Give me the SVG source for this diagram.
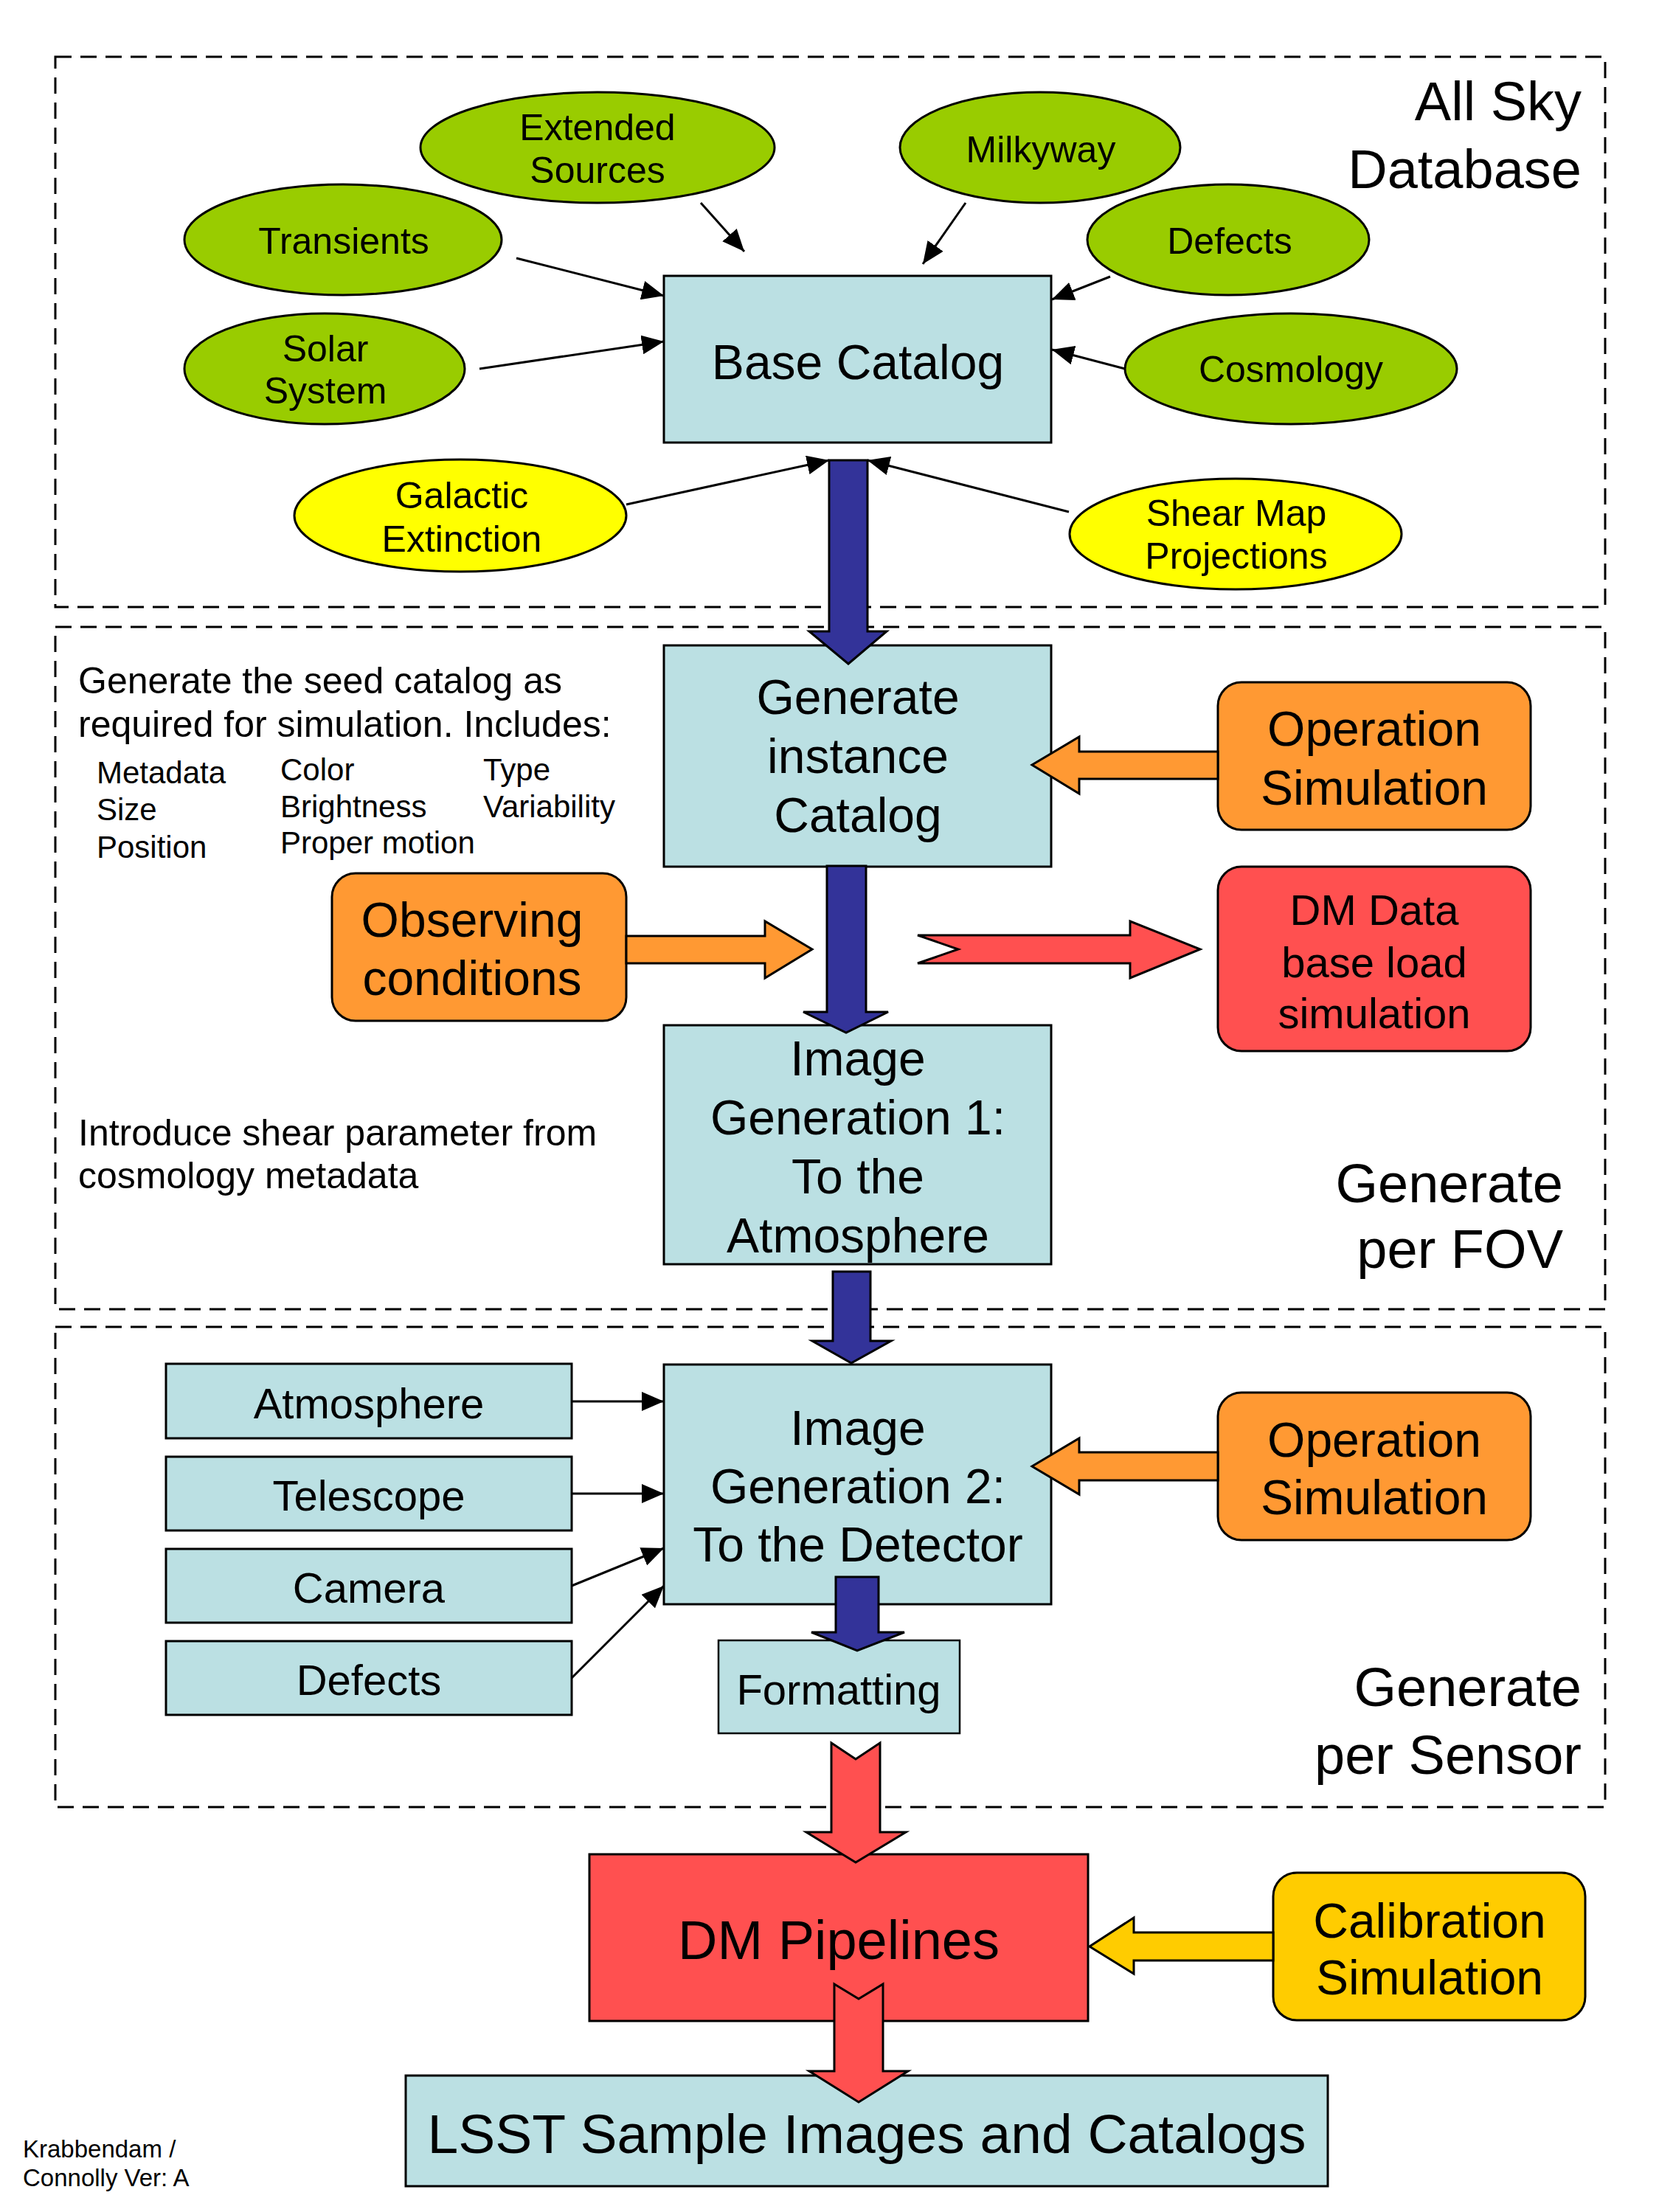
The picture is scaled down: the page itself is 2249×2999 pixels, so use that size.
<svg xmlns="http://www.w3.org/2000/svg" width="2249" height="2999" viewBox="0 0 2249 2999">
<style>
text{font-family:"Liberation Sans",Arial,sans-serif;fill:#000}
.zone{fill:none;stroke:#000;stroke-width:3;stroke-dasharray:22 12}
.box{fill:#BBE0E3;stroke:#000;stroke-width:3}
.green{fill:#99CC00;stroke:#000;stroke-width:3}
.yel{fill:#FFFF00;stroke:#000;stroke-width:3}
.org{fill:#FF9933;stroke:#000;stroke-width:3}
.red{fill:#FF5050;stroke:#000;stroke-width:3}
.gold{fill:#FFCC00;stroke:#000;stroke-width:3}
.blue{fill:#333399;stroke:#000;stroke-width:3}
.ln{stroke:#000;stroke-width:3;fill:none;marker-end:url(#ah)}
.c{text-anchor:middle}
.r{text-anchor:end}
.f50{font-size:50px}
.f42{font-size:42px}
.f58{font-size:58px}
.f66{font-size:66px}
.f74{font-size:74px}
</style>
<defs>
<marker id="ah" markerUnits="userSpaceOnUse" markerWidth="30" markerHeight="26" refX="30" refY="13" orient="auto">
<path d="M0,0 L30,13 L0,26 z" fill="#000"/>
</marker>
</defs>
<rect width="2249" height="2999" fill="#fff"/>

<g id="zones">
<rect class="zone" x="75" y="77" width="2101" height="746"/>
<rect class="zone" x="75" y="850" width="2101" height="925"/>
<rect class="zone" x="75" y="1799" width="2101" height="651"/>
<text class="f74 r" x="2144" y="163">All Sky</text>
<text class="f74 r" x="2144" y="255">Database</text>
<text class="f74 r" x="2119" y="1630">Generate</text>
<text class="f74 r" x="2119" y="1719">per FOV</text>
<text class="f74 r" x="2144" y="2313">Generate</text>
<text class="f74 r" x="2144" y="2405">per Sensor</text>
</g>

<g id="notes">
<text class="f50" x="106" y="940">Generate the seed catalog as</text>
<text class="f50" x="106" y="999">required for simulation. Includes:</text>
<text class="f42" x="131" y="1062">Metadata</text>
<text class="f42" x="131" y="1112">Size</text>
<text class="f42" x="131" y="1163">Position</text>
<text class="f42" x="380" y="1058">Color</text>
<text class="f42" x="380" y="1108">Brightness</text>
<text class="f42" x="380" y="1157">Proper motion</text>
<text class="f42" x="655" y="1058">Type</text>
<text class="f42" x="655" y="1108">Variability</text>
<text class="f50" x="106" y="1553">Introduce shear parameter from</text>
<text class="f50" x="106" y="1611">cosmology metadata</text>
<text style="font-size:33px" x="31" y="2925">Krabbendam /</text>
<text style="font-size:33px" x="31" y="2964">Connolly Ver: A</text>
</g>

<g id="ext-sources"><ellipse class="green" cx="810" cy="200" rx="240" ry="75"/>
<text class="f50 c" x="810" y="190">Extended</text><text class="f50 c" x="810" y="248">Sources</text></g>
<g id="transients"><ellipse class="green" cx="465" cy="325" rx="215" ry="75"/>
<text class="f50 c" x="466" y="344">Transients</text></g>
<g id="solar"><ellipse class="green" cx="440" cy="500" rx="190" ry="75"/>
<text class="f50 c" x="441" y="490">Solar</text><text class="f50 c" x="441" y="547">System</text></g>
<g id="galactic"><ellipse class="yel" cx="624" cy="699" rx="225" ry="76"/>
<text class="f50 c" x="626" y="689">Galactic</text><text class="f50 c" x="626" y="748">Extinction</text></g>
<g id="milkyway"><ellipse class="green" cx="1410" cy="200" rx="190" ry="75"/>
<text class="f50 c" x="1411" y="220">Milkyway</text></g>
<g id="defects-sky"><ellipse class="green" cx="1665" cy="325" rx="191" ry="75"/>
<text class="f50 c" x="1667" y="344">Defects</text></g>
<g id="cosmology"><ellipse class="green" cx="1750" cy="500" rx="225" ry="75"/>
<text class="f50 c" x="1750" y="518">Cosmology</text></g>
<g id="shear"><ellipse class="yel" cx="1675" cy="724" rx="225" ry="75"/>
<text class="f50 c" x="1676" y="713">Shear Map</text><text class="f50 c" x="1676" y="771">Projections</text></g>

<g id="base-catalog"><rect class="box" x="900" y="374" width="525" height="226"/>
<text class="f66 c" x="1163" y="514">Base Catalog</text></g>

<g id="gen-instance"><rect class="box" x="900" y="875" width="525" height="300"/>
<text class="f66 c" x="1163" y="968">Generate</text>
<text class="f66 c" x="1163" y="1048">instance</text>
<text class="f66 c" x="1163" y="1128">Catalog</text></g>

<g id="op-sim-1"><rect class="org" x="1651" y="925" width="424" height="200" rx="32"/>
<text class="f66 c" x="1863" y="1011">Operation</text>
<text class="f66 c" x="1863" y="1091">Simulation</text></g>

<g id="observing"><rect class="org" x="450" y="1184" width="399" height="200" rx="32"/>
<text class="f66 c" x="640" y="1270">Observing</text>
<text class="f66 c" x="640" y="1349">conditions</text></g>

<g id="dm-load"><rect class="red" x="1651" y="1175" width="424" height="250" rx="32"/>
<text class="f58 c" x="1863" y="1254">DM Data</text>
<text class="f58 c" x="1863" y="1325">base load</text>
<text class="f58 c" x="1863" y="1394">simulation</text></g>

<g id="img-gen-1"><rect class="box" x="900" y="1390" width="525" height="324"/>
<text class="f66 c" x="1163" y="1458">Image</text>
<text class="f66 c" x="1163" y="1538">Generation 1:</text>
<text class="f66 c" x="1163" y="1618">To the</text>
<text class="f66 c" x="1163" y="1698">Atmosphere</text></g>

<g id="atmosphere"><rect class="box" x="225" y="1849" width="550" height="101"/>
<text class="f58 c" x="500" y="1923">Atmosphere</text></g>
<g id="telescope"><rect class="box" x="225" y="1975" width="550" height="100"/>
<text class="f58 c" x="500" y="2048">Telescope</text></g>
<g id="camera"><rect class="box" x="225" y="2100" width="550" height="100"/>
<text class="f58 c" x="500" y="2173">Camera</text></g>
<g id="defects-sensor"><rect class="box" x="225" y="2225" width="550" height="100"/>
<text class="f58 c" x="500" y="2298">Defects</text></g>

<g id="img-gen-2"><rect class="box" x="900" y="1850" width="525" height="325"/>
<text class="f66 c" x="1163" y="1959">Image</text>
<text class="f66 c" x="1163" y="2038">Generation 2:</text>
<text class="f66 c" x="1163" y="2117">To the Detector</text></g>

<g id="op-sim-2"><rect class="org" x="1651" y="1888" width="424" height="200" rx="32"/>
<text class="f66 c" x="1863" y="1975">Operation</text>
<text class="f66 c" x="1863" y="2053">Simulation</text></g>

<g id="formatting"><rect class="box" x="974" y="2224" width="327" height="126" style="stroke-width:2.5"/>
<text class="f58 c" x="1137" y="2311">Formatting</text></g>

<g id="dm-pipelines"><rect class="red" x="799" y="2514" width="676" height="226"/>
<text class="f74 c" x="1137" y="2656">DM Pipelines</text></g>

<g id="cal-sim"><rect class="gold" x="1726" y="2539" width="423" height="200" rx="32"/>
<text class="f66 c" x="1938" y="2627">Calibration</text>
<text class="f66 c" x="1938" y="2704">Simulation</text></g>

<g id="lsst"><rect class="box" x="550" y="2814" width="1250" height="150"/>
<text class="c" style="font-size:75px" x="1175" y="2919">LSST Sample Images and Catalogs</text></g>

<g id="connectors">
<line class="ln" x1="950" y1="275" x2="1009" y2="341"/>
<line class="ln" x1="700" y1="350" x2="900" y2="401"/>
<line class="ln" x1="650" y1="500" x2="900" y2="463"/>
<line class="ln" x1="849" y1="684" x2="1124" y2="624"/>
<line class="ln" x1="1309" y1="275" x2="1251" y2="358"/>
<line class="ln" x1="1505" y1="375" x2="1426" y2="406"/>
<line class="ln" x1="1525" y1="500" x2="1426" y2="474"/>
<line class="ln" x1="1449" y1="694" x2="1176" y2="624"/>
<line class="ln" x1="775" y1="1900" x2="900" y2="1900"/>
<line class="ln" x1="775" y1="2025" x2="900" y2="2025"/>
<line class="ln" x1="775" y1="2150" x2="900" y2="2099"/>
<line class="ln" x1="775" y1="2275" x2="900" y2="2150"/>

<polygon class="blue" points="1124,624 1176,624 1176,856 1202,856 1150,900 1097,856 1124,856"/>
<polygon class="blue" points="1121,1174 1174,1174 1174,1372 1204,1372 1147,1400 1089,1372 1121,1372"/>
<polygon class="blue" points="1129,1724 1180,1724 1180,1818 1208,1818 1154,1848 1101,1818 1129,1818"/>
<polygon class="blue" points="1133,2138 1191,2138 1191,2213 1226,2213 1162,2238 1100,2213 1133,2213"/>

<polygon class="org" points="1399,1037 1463,999 1463,1019 1651,1019 1651,1056 1463,1056 1463,1076"/>
<polygon class="org" points="849,1269 1037,1269 1037,1249 1101,1287 1037,1326 1037,1306 849,1306"/>
<polygon class="red" points="1244,1268 1532,1268 1532,1249 1627,1287 1532,1326 1532,1306 1244,1306 1299,1287"/>
<polygon class="org" points="1399,1988 1463,1950 1463,1969 1651,1969 1651,2007 1463,2007 1463,2026"/>
<polygon class="gold" points="1477,2639 1537,2600 1537,2620 1726,2620 1726,2658 1537,2658 1537,2676"/>

<polygon class="red" points="1127,2363 1160,2385 1193,2363 1193,2484 1228,2484 1160,2525 1093,2484 1127,2484"/>
<polygon class="red" points="1131,2690 1164,2710 1197,2690 1197,2808 1231,2808 1164,2850 1097,2808 1131,2808"/>
</g>
</svg>
